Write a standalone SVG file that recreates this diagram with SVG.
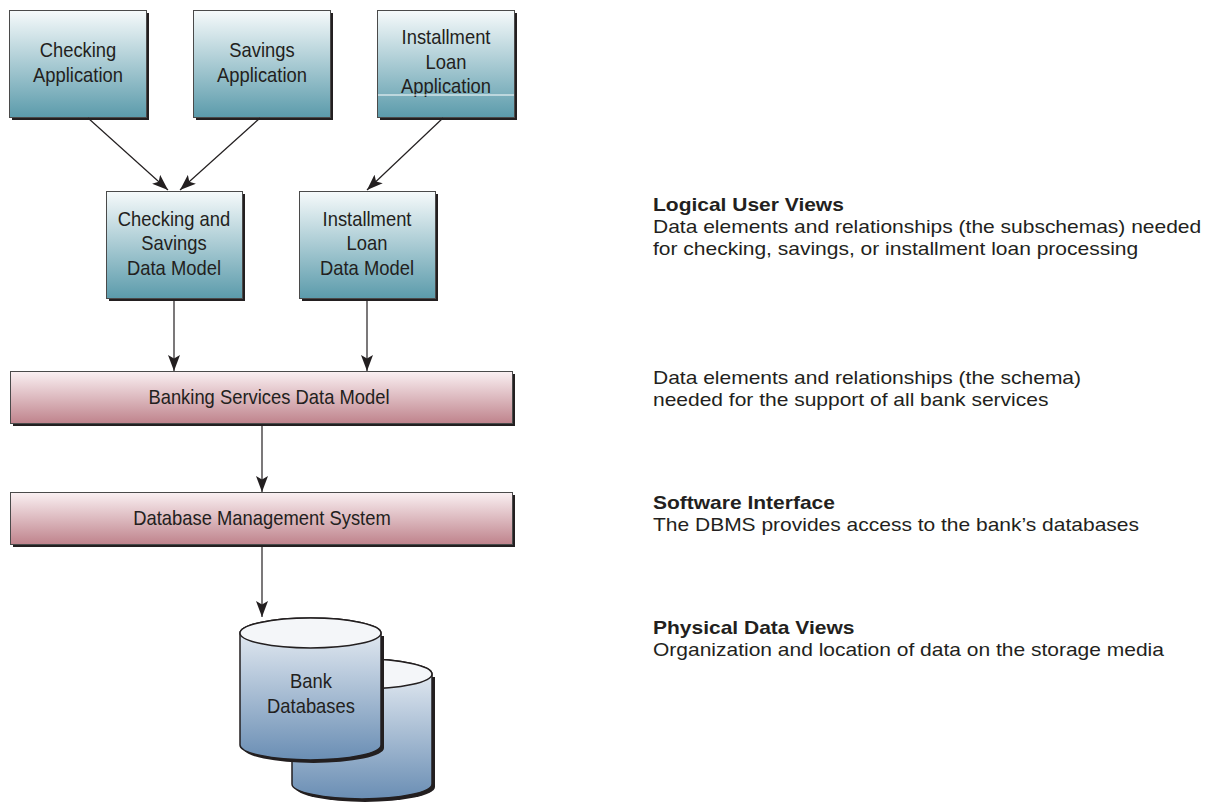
<svg xmlns="http://www.w3.org/2000/svg" width="1218" height="802" viewBox="0 0 1218 802">
<defs>
<linearGradient id="gTeal" x1="0" y1="0" x2="0" y2="1">
<stop offset="0" stop-color="#f6fafb"/>
<stop offset="1" stop-color="#5b9bab"/>
</linearGradient>
<linearGradient id="gPink" x1="0" y1="0" x2="0" y2="1">
<stop offset="0" stop-color="#faf0f2"/>
<stop offset="1" stop-color="#bf838c"/>
</linearGradient>
<linearGradient id="gCyl" x1="0" y1="0" x2="0" y2="1">
<stop offset="0" stop-color="#eef2f7"/>
<stop offset="1" stop-color="#6a8eb4"/>
</linearGradient>
<marker id="arr" markerUnits="userSpaceOnUse" markerWidth="17" markerHeight="12" refX="16" refY="6" orient="auto">
<path d="M0,0 L16,6 L0,12 L3.5,6 z" fill="#231f20"/>
</marker>
</defs>
<style>
.box{stroke:#4a4a4a;stroke-width:1}
.shadow{fill:#231f20}
.t{font-family:"Liberation Sans",Arial,sans-serif;font-size:20px;fill:#231f20;text-anchor:middle}
.r{font-family:"Liberation Sans",Arial,sans-serif;font-size:17.5px;fill:#231f20}
.b{font-weight:bold}
.conn{stroke:#231f20;stroke-width:1.2;fill:none;marker-end:url(#arr)}
.cyl{stroke:#231f20;stroke-width:1.5}
</style>

<g id="checking-app">
<rect class="shadow" x="12" y="13" width="137" height="107"/>
<rect class="box" x="9.5" y="10.5" width="137" height="107" fill="url(#gTeal)"/>
<g transform="translate(78,0) scale(0.92,1)">
<text class="t" x="0" y="57">Checking</text>
<text class="t" x="0" y="82">Application</text>
</g>
</g>

<g id="savings-app">
<rect class="shadow" x="196" y="13" width="137" height="107"/>
<rect class="box" x="193.5" y="10.5" width="137" height="107" fill="url(#gTeal)"/>
<g transform="translate(262,0) scale(0.92,1)">
<text class="t" x="0" y="57">Savings</text>
<text class="t" x="0" y="82">Application</text>
</g>
</g>

<g id="installment-app">
<rect class="shadow" x="380" y="13" width="137" height="107"/>
<rect class="box" x="377.5" y="10.5" width="137" height="107" fill="url(#gTeal)"/>
<g transform="translate(446,0) scale(0.92,1)">
<text class="t" x="0" y="44">Installment</text>
<text class="t" x="0" y="69">Loan</text>
<text class="t" x="0" y="93">Application</text>
</g>
<line x1="378" y1="95" x2="514" y2="95" stroke="#ffffff" stroke-width="1"/>
</g>

<g id="cs-data-model">
<rect class="shadow" x="109" y="194" width="136" height="107"/>
<rect class="box" x="106.5" y="191.5" width="136" height="107" fill="url(#gTeal)"/>
<g transform="translate(174,0) scale(0.92,1)">
<text class="t" x="0" y="226">Checking and</text>
<text class="t" x="0" y="250">Savings</text>
<text class="t" x="0" y="275">Data Model</text>
</g>
</g>

<g id="il-data-model">
<rect class="shadow" x="302" y="194" width="136" height="107"/>
<rect class="box" x="299.5" y="191.5" width="136" height="107" fill="url(#gTeal)"/>
<g transform="translate(367,0) scale(0.92,1)">
<text class="t" x="0" y="226">Installment</text>
<text class="t" x="0" y="250">Loan</text>
<text class="t" x="0" y="275">Data Model</text>
</g>
</g>

<g id="banking-model">
<rect class="shadow" x="13" y="374" width="502" height="52"/>
<rect class="box" x="10.5" y="371.5" width="502" height="52" fill="url(#gPink)"/>
<g transform="translate(269,0) scale(0.92,1)">
<text class="t" x="0" y="404">Banking Services Data Model</text>
</g>
</g>

<g id="dbms">
<rect class="shadow" x="13" y="495" width="502" height="52"/>
<rect class="box" x="10.5" y="492.5" width="502" height="52" fill="url(#gPink)"/>
<g transform="translate(262,0) scale(0.92,1)">
<text class="t" x="0" y="525">Database Management System</text>
</g>
</g>

<g id="bank-databases">
<path class="shadow" d="M295,677 L295,787 A70,15 0 0 0 435,787 L435,677 z"/>
<path class="cyl" d="M292,674 L292,784 A70,15 0 0 0 432,784 L432,674 A70,15 0 0 0 292,674 z" fill="url(#gCyl)"/>
<ellipse class="cyl" cx="362" cy="674" rx="70" ry="15" fill="#f4f6f9"/>
<path class="shadow" d="M243,636 L243,748 A70.5,15 0 0 0 384,748 L384,636 z"/>
<path class="cyl" d="M240,633 L240,745 A70.5,15 0 0 0 381,745 L381,633 A70.5,15 0 0 0 240,633 z" fill="url(#gCyl)"/>
<ellipse class="cyl" cx="310.5" cy="633" rx="70.5" ry="15" fill="#f4f6f9"/>
<g transform="translate(311,0) scale(0.92,1)">
<text class="t" x="0" y="688">Bank</text>
<text class="t" x="0" y="713">Databases</text>
</g>
</g>

<g id="connectors">
<line class="conn" x1="88" y1="118" x2="168" y2="190"/>
<line class="conn" x1="260" y1="118" x2="180" y2="190"/>
<line class="conn" x1="443" y1="118" x2="367" y2="190"/>
<line class="conn" x1="174" y1="301" x2="174" y2="371"/>
<line class="conn" x1="367" y1="301" x2="367" y2="371"/>
<line class="conn" x1="262" y1="426" x2="262" y2="492"/>
<line class="conn" x1="262" y1="547" x2="262" y2="617"/>
</g>

<g id="annotations" transform="translate(653,0) scale(1.2,1)">
<text class="r b" x="0" y="211">Logical User Views</text>
<text class="r" x="0" y="233">Data elements and relationships (the subschemas) needed</text>
<text class="r" x="0" y="255">for checking, savings, or installment loan processing</text>
<text class="r" x="0" y="384">Data elements and relationships (the schema)</text>
<text class="r" x="0" y="406">needed for the support of all bank services</text>
<text class="r b" x="0" y="509">Software Interface</text>
<text class="r" x="0" y="531">The DBMS provides access to the bank’s databases</text>
<text class="r b" x="0" y="634">Physical Data Views</text>
<text class="r" x="0" y="656">Organization and location of data on the storage media</text>
</g>
</svg>
